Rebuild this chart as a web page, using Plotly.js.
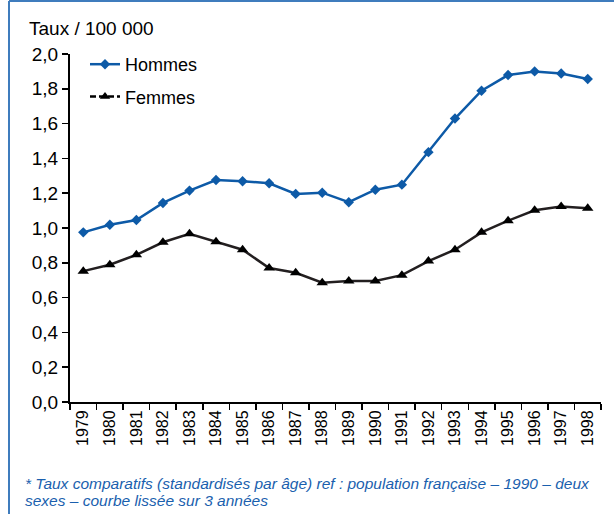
<!DOCTYPE html>
<html>
<head>
<meta charset="utf-8">
<script src="https://cdn.plot.ly/plotly-3.0.1.min.js"></script>
<style>
html,body{margin:0;padding:0;background:#fff;}
#chart{width:614px;height:514px;}
</style>
</head>
<body>
<div id="chart"></div>
<script>
const years = ["1979","1980","1981","1982","1983","1984","1985","1986","1987","1988","1989","1990","1991","1992","1993","1994","1995","1996","1997","1998"];
const hommes = [0.975,1.019,1.046,1.144,1.215,1.276,1.269,1.257,1.196,1.203,1.148,1.220,1.249,1.436,1.629,1.789,1.879,1.900,1.888,1.856];
const femmes = [0.752,0.789,0.846,0.918,0.967,0.921,0.875,0.770,0.743,0.686,0.695,0.695,0.729,0.810,0.875,0.975,1.042,1.102,1.123,1.113];
const seriesNames = ["Hommes","Femmes"];
const yTitle = "Taux / 100 000";
const note1 = "* Taux comparatifs (standardisés par âge) ref : population française – 1990 – deux";
const note2 = "sexes – courbe lissée sur 3 années";

const blue = "#0d5aa7";
const dark = "#231f20";
const font = "Liberation Sans, Arial, sans-serif";

const traces = [
  {
    x: years, y: hommes, name: seriesNames[0], type: "scatter", mode: "lines+markers",
    line: {color: blue, width: 2.5},
    marker: {symbol: "diamond", size: 8, color: blue},
    legendgroup: "h", cliponaxis: false
  },
  {
    x: years, y: femmes, name: seriesNames[1], type: "scatter", mode: "lines+markers",
    line: {color: dark, width: 2.5},
    marker: {symbol: "triangle-up", size: 10, color: "#000"},
    showlegend: false, cliponaxis: false
  },
  {
    x: [years[0]], y: [null], name: seriesNames[1], type: "scatter", mode: "lines+markers",
    line: {color: "#000", width: 2.5, dash: "6px,3px"},
    marker: {symbol: "triangle-up", size: 9, color: "#000"},
    legendgroup: "f", hoverinfo: "skip"
  }
];

const L = 70, R = 13, T = 54, B = 112, W = 614, H = 514;
const pw = W - L - R, ph = H - T - B;
const px = v => (v - L) / pw;
const py = v => (H - B - v) / ph;

const layout = {
  width: W, height: H,
  margin: {l: L, r: R, t: T, b: B, pad: 0},
  paper_bgcolor: "#fff", plot_bgcolor: "#fff",
  separators: ", ",
  font: {family: font, size: 18, color: "#000"},
  showlegend: true,
  legend: {
    x: px(85), y: py(46), xanchor: "left", yanchor: "top",
    bgcolor: "rgba(0,0,0,0)", borderwidth: 0,
    font: {family: font, size: 18, color: "#000"},
    traceorder: "grouped", tracegroupgap: 6, itemwidth: 30
  },
  xaxis: {
    type: "category", range: [-0.5, 19.5],
    tickson: "boundaries", ticks: "outside", ticklen: 6, tickwidth: 1.5, tickcolor: "#000",
    tickangle: -90, tickfont: {family: font, size: 16, color: "#000"},
    showline: true, linecolor: "#000", linewidth: 2,
    showgrid: false, zeroline: false, fixedrange: true
  },
  yaxis: {
    range: [0, 2], dtick: 0.2, tick0: 0, tickformat: ".1f",
    ticks: "outside", ticklen: 6, tickwidth: 1.5, tickcolor: "#000",
    tickfont: {family: font, size: 19, color: "#000"},
    showline: true, linecolor: "#000", linewidth: 2,
    showgrid: false, zeroline: false, fixedrange: true
  },
  annotations: [
    {text: yTitle, xref: "paper", yref: "paper", x: px(27), y: py(28), xanchor: "left", yanchor: "middle",
     showarrow: false, font: {family: font, size: 19, color: "#000"}},
    {text: "<i>" + note1 + "</i>", xref: "paper", yref: "paper", x: px(23), y: py(483), xanchor: "left", yanchor: "middle",
     showarrow: false, font: {family: font, size: 15.5, color: "#1a5fae"}},
    {text: "<i>" + note2 + "</i>", xref: "paper", yref: "paper", x: px(23), y: py(500), xanchor: "left", yanchor: "middle",
     showarrow: false, font: {family: font, size: 15.5, color: "#1a5fae"}}
  ],
  shapes: [
    {type: "line", xref: "paper", yref: "paper", x0: px(9), x1: px(9), y0: py(H + 5), y1: py(1), line: {color: "#3f7cbd", width: 2}},
    {type: "line", xref: "paper", yref: "paper", x0: px(9), x1: px(W + 5), y0: py(1), y1: py(1), line: {color: "#3f7cbd", width: 2}}
  ]
};

Plotly.newPlot("chart", traces, layout, {displayModeBar: false, staticPlot: true});
</script>
</body>
</html>
